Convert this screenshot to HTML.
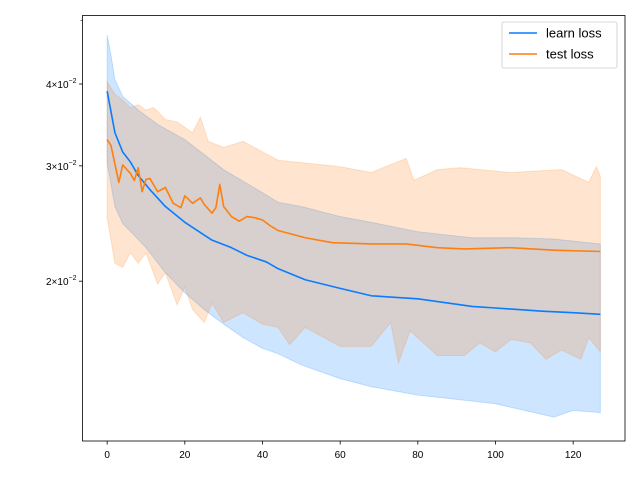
<!DOCTYPE html>
<html><head><meta charset="utf-8"><style>
body{margin:0;background:#fff;}
svg{display:block;font-family:"Liberation Sans","DejaVu Sans",sans-serif;}
</style></head><body>
<svg id="chart" width="640" height="480" viewBox="0 0 640 480"></svg>
<script>
const learnX=[0,2,4,6,8,11,15,20,27,32,36,41,44,51,60,68,80,94,100,112,120,127];
const learnMean=[3.90,3.37,3.15,3.04,2.90,2.76,2.60,2.46,2.31,2.25,2.19,2.14,2.09,2.01,1.95,1.90,1.88,1.83,1.82,1.80,1.79,1.78];
const learnUpX=[0,1,2,4,8,13,20,30,40,44,50,60,68,80,94,105,115,127];
const learnUp=[4.75,4.42,4.06,3.83,3.65,3.47,3.29,2.96,2.73,2.64,2.60,2.51,2.46,2.38,2.33,2.33,2.32,2.28];
const learnLoX=[0,2,4,10,15,20,25,30,35,40,44,50,60,68,80,90,100,110,115,120,127];
const learnLo=[3.03,2.60,2.45,2.25,2.06,1.92,1.81,1.72,1.64,1.58,1.55,1.49,1.42,1.38,1.34,1.32,1.30,1.26,1.24,1.27,1.26];
const testX=[0,1,3,4,6,7,8,9,10,11,13,15,17,19,20,22,24,25,27,28,29,30,32,34,36,38,40,42,44,51,58,68,77,85,92,104,115,127];
const testMean=[3.29,3.22,2.83,3.01,2.92,2.85,2.98,2.74,2.86,2.87,2.74,2.78,2.63,2.59,2.70,2.63,2.68,2.62,2.54,2.59,2.81,2.60,2.51,2.47,2.51,2.50,2.48,2.43,2.39,2.33,2.29,2.28,2.28,2.25,2.24,2.25,2.23,2.22];
const testUpX=[0,2,4,6,8,10,12,15,18,22,24,26,30,35,40,44,51,60,68,77,79,85,91,104,117,124,126,127];
const testUp=[4.03,3.86,3.78,3.68,3.72,3.65,3.68,3.53,3.50,3.37,3.56,3.27,3.20,3.27,3.15,3.06,3.03,2.99,2.93,3.08,2.85,2.96,2.98,2.93,2.96,2.83,2.99,2.89];
const testLoX=[0,2,4,6,8,10,13,15,18,20,22,25,27,30,35,40,44,47,51,60,68,73,75,78,85,92,96,100,104,109,113,117,122,124,127];
const testLo=[2.50,2.13,2.10,2.21,2.13,2.21,1.98,2.06,1.84,1.96,1.81,1.73,1.85,1.73,1.79,1.72,1.70,1.60,1.70,1.59,1.59,1.73,1.50,1.68,1.54,1.54,1.61,1.56,1.63,1.61,1.52,1.57,1.52,1.64,1.56];
const xTicks=[0,20,40,60,80,100,120];
const yTicks=[2,3,4];
const yMinor=[5];

const NS="http://www.w3.org/2000/svg";
const svg=document.getElementById('chart');
const L=82.5,R=625,T=15.5,B=441;
function xs(v){return L+(v+6.35)*(R-L)/139.7;}
function ys(v){return 84-655*Math.log10(v/4);}
function mk(tag,attrs,parent){const e=document.createElementNS(NS,tag);for(const k in attrs)e.setAttribute(k,attrs[k]);(parent||svg).appendChild(e);return e;}
function pts(X,Y){return X.map((x,i)=>xs(x).toFixed(2)+','+ys(Y[i]).toFixed(2));}
function band(X1,Y1,X2,Y2,color,name){
  const p=pts(X1,Y1).concat(pts(X2,Y2).reverse());
  const e=mk('polygon',{points:p.join(' '),fill:color,'fill-opacity':0.2,stroke:color,'stroke-opacity':0.2,'stroke-width':1});
  
  
}
function line(X,Y,color,name){
  const e=mk('polyline',{points:pts(X,Y).join(' '),fill:'none',stroke:color,'stroke-width':1.6,'stroke-linejoin':'round'});
  
  
}
const BLUE='#0a7cff',ORANGE='#ff7f0e';
band(learnUpX,learnUp,learnLoX,learnLo,BLUE,'learn-loss-band');
band(testUpX,testUp,testLoX,testLo,ORANGE,'test-loss-band');
line(learnX,learnMean,BLUE,'learn-loss-line');
line(testX,testMean,ORANGE,'test-loss-line');

const frame=mk('rect',{x:L,y:T,width:R-L,height:B-T,fill:'none',stroke:'#000','stroke-width':0.8});



xTicks.forEach(t=>{
  const x=xs(t);
  const tk=mk('line',{x1:x,x2:x,y1:B,y2:B+3.5,stroke:'#000','stroke-width':0.8});
  
  
  const tx=mk('text',{x:x,y:B+17,'text-anchor':'middle','font-size':'10px',fill:'#000'});
  tx.textContent=t;
  
  
});
yTicks.forEach(t=>{
  const y=ys(t);
  const tk=mk('line',{x1:L-3.5,x2:L,y1:y,y2:y,stroke:'#000','stroke-width':0.8});
  
  
  const tx=mk('text',{x:L-6,y:y+4,'text-anchor':'end','font-size':'10px',fill:'#000'});
  tx.innerHTML=t+'\u00d710<tspan dy="-5" font-size="7px">\u22122</tspan>';
  
  
});
yMinor.forEach(t=>{
  const y=ys(t);
  const tk=mk('line',{x1:L-2,x2:L,y1:y,y2:y,stroke:'#000','stroke-width':0.6});
  
  
});

const lg=mk('g',{});


mk('rect',{x:502,y:22,width:115,height:46,rx:2,fill:'#fff','fill-opacity':0.8,stroke:'#ccc','stroke-width':0.8},lg);
[['learn loss',BLUE,33],['test loss',ORANGE,54]].forEach(([lab,c,y])=>{
  const g=mk('g',{},lg);
  
  
  mk('line',{x1:509,x2:537,y1:y,y2:y,stroke:c,'stroke-width':1.6},g);
  const t=mk('text',{x:546,y:y+4.5,'font-size':'13px',fill:'#000'},g);
  t.textContent=lab;
});
</script>
</body></html>
